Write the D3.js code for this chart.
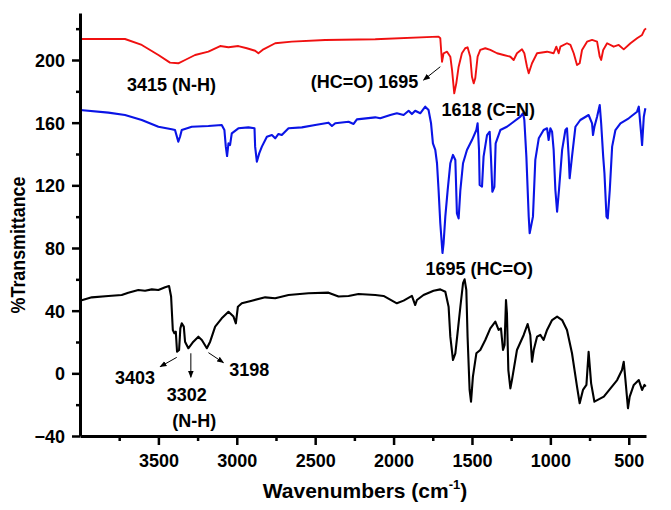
<!DOCTYPE html>
<html>
<head>
<meta charset="utf-8">
<script src="https://cdn.jsdelivr.net/npm/d3@7"></script>
<style>
  body { margin: 0; background: #fff; }
  svg text { font-family: "Liberation Sans", Arial, sans-serif; font-weight: bold; fill: #000; }
</style>
</head>
<body>
<div id="chart"></div>
<script>
// Spectrum data (wavenumber cm-1, %T)
const redWn = [4000, 3713, 3606, 3500, 3426, 3373, 3330, 3266, 3181, 3106, 3053, 2990, 2936, 2883, 2862, 2830, 2755, 2649, 2436, 2117,
  1713, 1702, 1696, 1691, 1681, 1659, 1638, 1627, 1613, 1600, 1585, 1564, 1543, 1528, 1511, 1500, 1489, 1479, 1464, 1447, 1415, 1383,
  1340, 1298, 1255, 1234, 1213, 1181, 1166, 1149, 1138, 1117, 1085, 1021, 979, 962, 947, 936, 894, 872, 851, 830, 813, 798, 766, 734,
  702, 685, 676, 663, 638, 596, 564, 532, 489, 447, 415, 400, 390];
const redT = [213.4, 213.4, 209.6, 203.2, 198.3, 197.9, 200.0, 203.2, 205.3, 208.9, 208.1, 208.9, 207.5, 205.9, 204.3, 206.8, 210.7, 211.7, 212.8, 213.2,
  214.9, 213.9, 205.3, 198.9, 204.3, 205.3, 202.1, 193.6, 178.7, 185.1, 195.7, 204.3, 207.5, 208.1, 202.1, 189.3, 185.1, 188.3, 202.1, 206.4, 207.5, 206.4,
  204.3, 203.2, 202.1, 200.0, 204.3, 206.8, 204.3, 195.7, 191.5, 197.9, 204.3, 205.3, 204.3, 208.5, 204.3, 208.5, 210.7, 209.6, 204.3, 196.8, 197.9, 206.4, 211.7, 212.8,
  211.7, 202.1, 200.0, 206.4, 210.7, 208.5, 209.6, 206.8, 210.7, 213.9, 216.0, 219.2, 220.2];

const blueWn = [4000, 3819, 3713, 3606, 3500, 3415, 3394, 3373, 3362, 3351, 3287, 3181, 3096, 3079, 3070, 3062, 3053, 3043, 3032, 2990,
  2926, 2887, 2883, 2872, 2857, 2840, 2808, 2776, 2755, 2734, 2713, 2670, 2585, 2500, 2415, 2393, 2372, 2287, 2255, 2234, 2117, 2085,
  2021, 1979, 1936, 1904, 1883, 1862, 1830, 1798, 1777, 1761, 1749, 1734, 1723, 1713, 1702, 1688, 1681, 1670, 1655, 1638, 1621, 1606,
  1596, 1585, 1574, 1557, 1532, 1500, 1472, 1464, 1455, 1451, 1436, 1426, 1404, 1387, 1379, 1370, 1357, 1349, 1319, 1277, 1234, 1191,
  1174, 1166, 1153, 1138, 1132, 1111, 1096, 1074, 1043, 1021, 1011, 1000, 989, 979, 968, 957, 945, 925, 904, 894, 883, 877, 862, 840,
  809, 756, 734, 728, 719, 702, 685, 676, 663, 655, 642, 634, 621, 606, 585, 553, 500, 447, 436, 421, 415, 404, 394];
const blueT = [168.1, 166.4, 164.9, 161.7, 157.4, 155.8, 155.3, 147.9, 151.0, 155.3, 157.4, 157.9, 158.5, 155.3, 144.7, 138.7, 146.8, 145.7, 153.2, 156.4,
  157.0, 156.4, 144.7, 135.1, 140.4, 144.7, 151.0, 152.1, 150.0, 152.8, 152.1, 156.4, 157.0, 158.5, 160.0, 157.9, 159.6, 160.6, 159.2, 162.1, 163.4, 162.8,
  164.9, 166.0, 164.9, 167.6, 165.5, 167.6, 166.0, 170.2, 168.1, 159.6, 146.8, 142.6, 134.1, 117.0, 95.8, 76.8, 83.0, 100.0, 117.0, 134.1, 139.4, 136.2,
  102.1, 98.9, 117.0, 134.1, 142.6, 148.9, 155.3, 159.6, 142.6, 120.2, 119.1, 138.3, 152.1, 154.2, 138.3, 115.9, 119.1, 146.8, 155.3, 157.4, 160.6, 163.8,
  166.0, 161.7, 138.3, 100.0, 89.4, 100.0, 136.2, 150.0, 155.3, 156.4, 148.9, 156.4, 154.2, 142.6, 117.0, 103.2, 117.0, 142.6, 155.3, 156.4, 138.3, 124.5, 138.3, 157.4,
  161.7, 164.9, 159.6, 152.1, 157.4, 163.8, 171.3, 159.6, 138.3, 127.7, 100.0, 98.9, 117.0, 144.7, 155.3, 159.6, 162.8, 167.0, 170.2, 153.2, 145.7, 163.8, 169.2];

const blackWn = [4000, 3925, 3819, 3734, 3692, 3628, 3585, 3542, 3500, 3457, 3432, 3419, 3408, 3398, 3389, 3381, 3368, 3360, 3351, 3338,
  3330, 3309, 3277, 3245, 3223, 3191, 3170, 3138, 3096, 3053, 3021, 3006, 2993, 2968, 2904, 2819, 2755, 2670, 2543, 2415, 2351, 2287,
  2224, 2117, 2064, 1979, 1936, 1883, 1862, 1851, 1809, 1745, 1702, 1670, 1649, 1638, 1621, 1606, 1592, 1574, 1557, 1547, 1536, 1528,
  1515, 1506, 1494, 1472, 1447, 1415, 1383, 1351, 1330, 1315, 1302, 1292, 1283, 1277, 1268, 1255, 1245, 1213, 1170, 1145, 1128, 1117,
  1106, 1085, 1064, 1043, 1021, 989, 957, 925, 894, 862, 830, 813, 792, 770, 756, 740, 719, 659, 574, 543, 532, 521, 505, 494, 468,
  436, 415, 400, 392];
const blackT = [46.4, 48.5, 49.4, 50.0, 51.5, 53.2, 52.7, 53.6, 53.2, 54.9, 55.7, 49.0, 27.7, 25.6, 26.6, 13.8, 14.9, 28.7, 31.9, 29.8,
  20.2, 16.0, 20.2, 23.4, 21.3, 16.0, 20.2, 29.8, 35.1, 39.3, 36.2, 31.9, 42.5, 44.7, 46.4, 48.5, 47.9, 50.0, 51.1, 51.5, 49.0, 49.4,
  50.6, 50.0, 49.4, 44.7, 46.4, 49.4, 43.6, 46.8, 50.0, 52.7, 53.6, 52.1, 42.5, 23.4, 8.5, 12.8, 25.6, 42.5, 57.5, 60.0, 53.2, 23.4,
  -10.6, -18.1, -2.1, 12.8, 14.9, 21.3, 28.7, 33.0, 27.7, 28.7, 14.9, 18.1, 46.8, 38.3, 2.1, -9.6, -4.3, 14.9, 24.5, 31.5, 24.5, 7.4,
  14.9, 23.4, 24.5, 21.3, 27.7, 34.0, 36.2, 34.0, 27.7, 12.8, -8.5, -19.1, -10.6, -7.4, 13.8, -6.4, -18.1, -14.9, -4.3, 2.1, 7.4, -4.3, -22.3, -14.9, -7.4,
  -4.3, -10.6, -7.4, -8.5];

const xTicks = [3500, 3000, 2500, 2000, 1500, 1000, 500];
const xMinor = [3750, 3250, 2750, 2250, 1750, 1250, 750];
const yTicks = [-40, 0, 40, 80, 120, 160, 200];
const yMinor = [-20, 20, 60, 100, 140, 180, 220];

// Peak labels: [text, wavenumber, %T, anchor]
const labels = [
  ["3415 (N-H)", 3416, 180.5, "middle"],
  ["(HC=O) 1695", 1843, 182.0, "end"],
  ["1618 (C=N)", 1396, 164.5, "middle"],
  ["1695 (HC=O)", 1453, 62.5, "middle"],
  ["3403", 3649, -6.8, "middle"],
  ["3302", 3319, -17.4, "middle"],
  ["(N-H)", 3272, -34.4, "middle"],
  ["3198", 2921, -1.5, "middle"]
];
// Arrows: [fromWn, fromT, toWn, toT]
const arrows = [
  [1702, 195.7, 1809, 187.2],
  [3383, 10.2, 3489, 4.2],
  [3293, 12.8, 3293, -2.5],
  [3181, 13.2, 3085, 6.8]
];

const width = 671, height = 510;
const margin = { top: 13, right: 25, bottom: 74, left: 80 };

const svg = d3.select("#chart").append("svg")
  .attr("width", width).attr("height", height);

svg.append("defs").append("marker")
  .attr("id", "head")
  .attr("viewBox", "0 0 10 10").attr("refX", 9).attr("refY", 5)
  .attr("markerWidth", 7).attr("markerHeight", 7)
  .attr("orient", "auto")
  .append("path").attr("d", "M0,1L10,5L0,9Z").attr("fill", "#000");

const x = d3.scaleLinear().domain([4000, 390]).range([margin.left, width - margin.right]);
const y = d3.scaleLinear().domain([-40, 230]).range([height - margin.bottom, margin.top]);

const line = d3.line().x(d => x(d[0])).y(d => y(d[1]));

const series = [
  { wn: blackWn, t: blackT, color: "#000000", w: 2.1 },
  { wn: blueWn, t: blueT, color: "#0a14e6", w: 2.1 },
  { wn: redWn, t: redT, color: "#f01010", w: 1.9 }
];
series.forEach(s => {
  svg.append("path")
    .datum(s.wn.map((v, i) => [v, s.t[i]]))
    .attr("fill", "none")
    .attr("stroke", s.color)
    .attr("stroke-width", s.w)
    .attr("stroke-linejoin", "round")
    .attr("d", line);
});

// Axes
const yb = height - margin.bottom;
const xAxis = svg.append("g").attr("transform", `translate(0,${yb})`)
  .call(d3.axisBottom(x).tickValues(xTicks).tickSize(9).tickSizeOuter(0).tickFormat(d3.format("d")));
svg.append("g").attr("transform", `translate(0,${yb})`)
  .call(d3.axisBottom(x).tickValues(xMinor).tickSize(5).tickSizeOuter(0).tickFormat(""))
  .select(".domain").remove();
const yAxis = svg.append("g").attr("transform", `translate(${margin.left},0)`)
  .call(d3.axisLeft(y).tickValues(yTicks).tickSize(8).tickSizeOuter(0).tickFormat(d3.format("d")));
svg.append("g").attr("transform", `translate(${margin.left},0)`)
  .call(d3.axisLeft(y).tickValues(yMinor).tickSize(4).tickSizeOuter(0).tickFormat(""))
  .select(".domain").remove();

svg.selectAll(".domain").attr("stroke", "#000").attr("stroke-width", 3);
svg.selectAll(".tick line").attr("stroke", "#000").attr("stroke-width", 2.5);
xAxis.selectAll("text").attr("y", 31).attr("dy", 0).style("font-size", "18px")
  .style("font-family", "Liberation Sans, Arial, sans-serif").style("font-weight", "bold");
yAxis.selectAll("text").attr("x", -15).attr("dy", "0.36em").style("font-size", "18px")
  .style("font-family", "Liberation Sans, Arial, sans-serif").style("font-weight", "bold");

// Axis titles
const xt = svg.append("text")
  .attr("transform", "translate(365,498)")
  .attr("text-anchor", "middle")
  .style("font-size", "21px");
xt.append("tspan").text("Wavenumbers (cm");
xt.append("tspan").attr("dy", -9).style("font-size", "13px").text("-1");
xt.append("tspan").attr("dy", 9).text(")");

svg.append("text")
  .attr("transform", "translate(25,245) rotate(-90) scale(0.85,1)")
  .attr("text-anchor", "middle")
  .style("font-size", "21px")
  .text("%Transmittance");

// Peak annotations
svg.selectAll("text.lab").data(labels).join("text")
  .attr("class", "lab")
  .attr("x", d => x(d[1])).attr("y", d => y(d[2]))
  .attr("text-anchor", d => d[3])
  .style("font-size", "18px")
  .text(d => d[0]);

svg.selectAll("line.arr").data(arrows).join("line")
  .attr("class", "arr")
  .attr("x1", d => x(d[0])).attr("y1", d => y(d[1]))
  .attr("x2", d => x(d[2])).attr("y2", d => y(d[3]))
  .attr("stroke", "#000").attr("stroke-width", 1)
  .attr("marker-end", "url(#head)");
</script>
</body>
</html>
